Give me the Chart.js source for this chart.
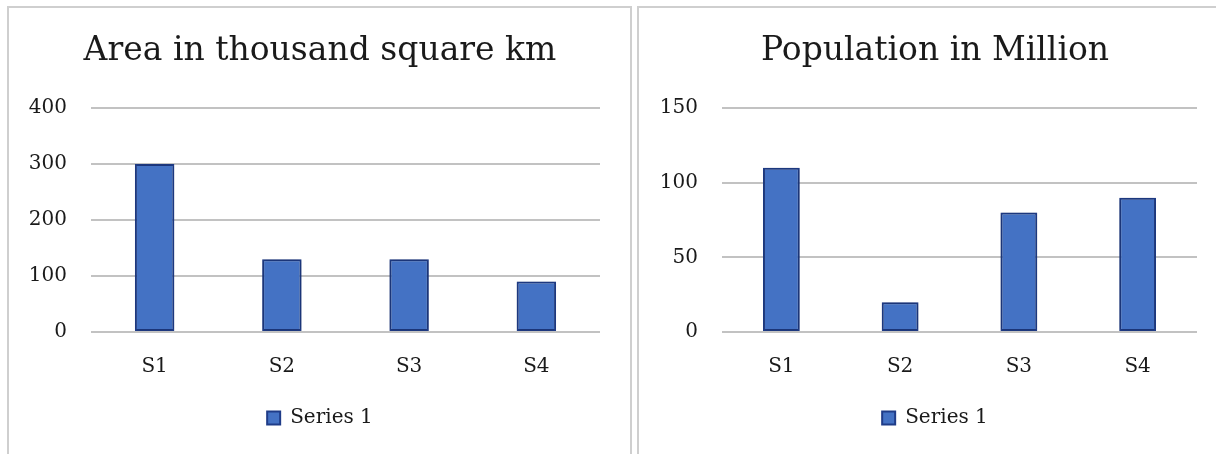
<!DOCTYPE html>
<html>
<head>
<meta charset="utf-8">
<script src="https://cdn.jsdelivr.net/npm/chart.js@4.4.1/dist/chart.umd.min.js"></script>
<style>
  html, body { margin: 0; padding: 0; background: #fff; overflow: hidden; }
  body { width: 1216px; height: 454px; position: relative; }
  .panel { position: absolute; top: 6px; height: 460px; border: 2px solid #cfcfcf; box-sizing: border-box; }
  canvas { position: absolute; top: 0; }
</style>
</head>
<body>
<div class="panel" style="left:7px; width:625px;"></div>
<div class="panel" style="left:637px; width:600px;"></div>
<canvas id="areaChart" width="622" height="454" style="left:9px;"></canvas>
<canvas id="popChart" width="590" height="454" style="left:640px;"></canvas>
<script>
// Categories and values for the two panels
const categories = ['S1', 'S2', 'S3', 'S4'];
const seriesName = 'Series 1';
const areaValues = [300, 130, 130, 90];        // thousand square km
const populationValues = [110, 20, 80, 90];    // million
const areaTicks = { max: 400, step: 100 };
const populationTicks = { max: 150, step: 50 };

const FONT = '"DejaVu Serif", serif';
const TEXT = '#1a1a1a';

// soft glow behind the bars
const barShadow = {
  id: 'barShadow',
  beforeDatasetsDraw(chart) {
    const ctx = chart.ctx;
    ctx.save();
    ctx.shadowColor = 'rgba(0,0,0,0.28)';
    ctx.shadowBlur = 4;
    ctx.shadowOffsetX = 0;
    ctx.shadowOffsetY = 0;
  },
  afterDatasetsDraw(chart) {
    chart.ctx.restore();
  }
};

function makeChart(id, title, values, ticks, leftW, rightW) {
  return new Chart(document.getElementById(id), {
    type: 'bar',
    data: {
      labels: categories,
      datasets: [{
        label: seriesName,
        data: values,
        backgroundColor: '#4472C4',
        borderColor: '#1F3C88',
        borderWidth: 2,
        borderSkipped: false,
        barPercentage: 0.31,
        categoryPercentage: 1.0
      }]
    },
    options: {
      responsive: false,
      animation: false,
      layout: { padding: { left: 0, right: 0, top: 0, bottom: 16 } },
      plugins: {
        title: {
          display: true,
          text: title,
          color: TEXT,
          font: { family: FONT, size: 33, weight: 'normal' },
          padding: { top: 32, bottom: 36.5 }
        },
        legend: {
          display: true,
          position: 'bottom',
          labels: {
            color: TEXT,
            font: { family: FONT, size: 20 },
            boxWidth: 13,
            boxHeight: 13,
            padding: 6
          }
        },
        tooltip: { enabled: false }
      },
      scales: {
        x: {
          grid: { display: false, drawTicks: false },
          border: { display: false },
          ticks: { color: TEXT, font: { family: FONT, size: 20 }, padding: 23 }
        },
        y: {
          min: 0,
          max: ticks.max,
          afterFit(scale) { scale.width = leftW; },
          grid: { color: '#c2c2c2', lineWidth: 2, drawTicks: false },
          border: { display: false },
          ticks: { stepSize: ticks.step, color: TEXT, font: { family: FONT, size: 20 }, padding: 24 }
        },
        // empty right-hand gutter so the plot ends where the panel's grid ends
        gutter: {
          position: 'right',
          afterFit(scale) { scale.width = rightW; },
          grid: { display: false, drawTicks: false },
          border: { display: false },
          ticks: { display: false }
        }
      }
    },
    plugins: [barShadow]
  });
}

makeChart('areaChart', 'Area in thousand square km', areaValues, areaTicks, 82, 31);
makeChart('popChart', 'Population in Million', populationValues, populationTicks, 82, 33);
</script>
</body>
</html>
